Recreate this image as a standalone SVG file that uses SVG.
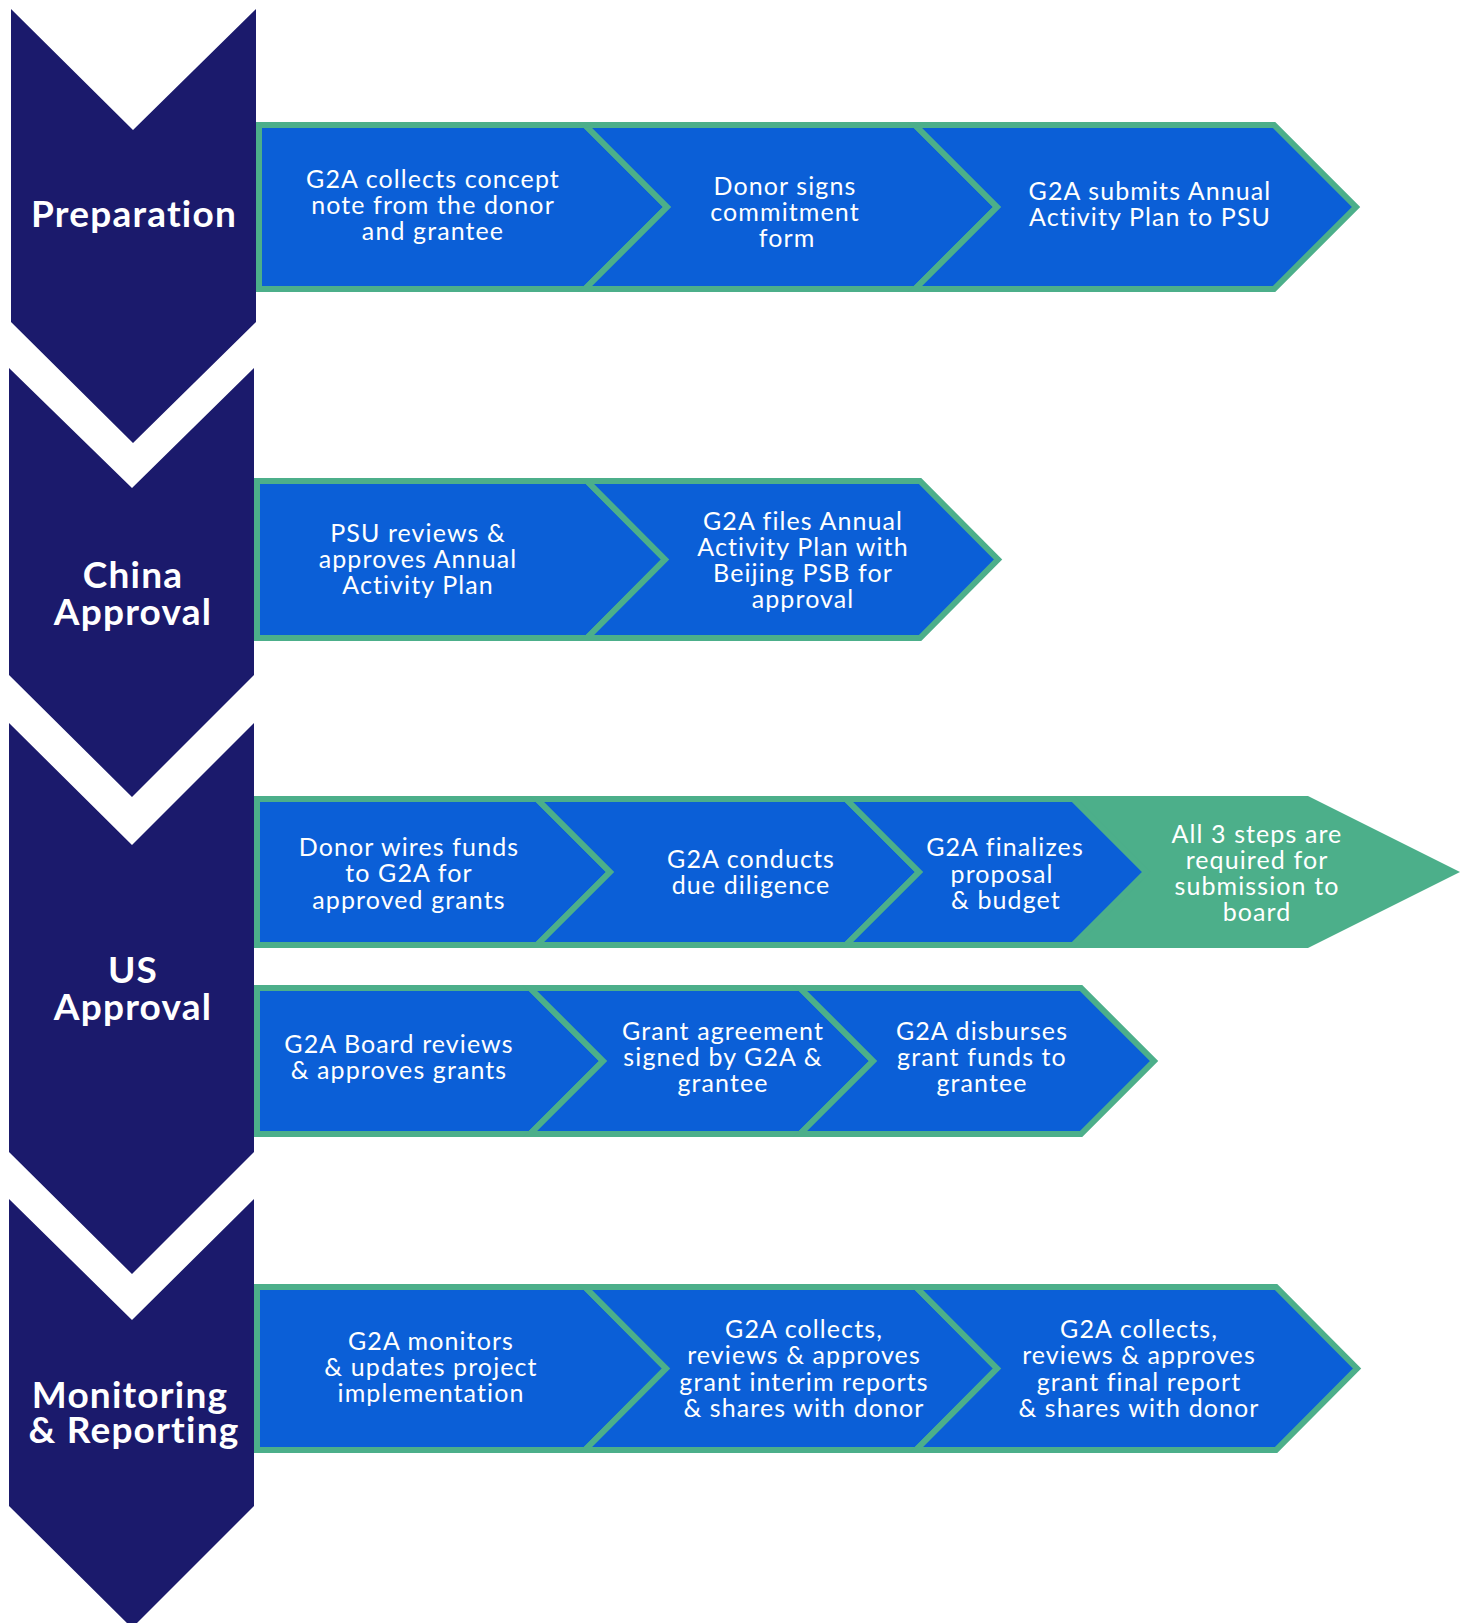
<svg xmlns="http://www.w3.org/2000/svg" width="1466" height="1623" viewBox="0 0 1466 1623">
<style>
.phase{fill:#1b1a6c}
.box{fill:#0b5fd7;stroke:#4caf8a;stroke-width:6;stroke-linejoin:miter}
.note{fill:#4caf8a}
.pt{font-family:Lato,"Liberation Sans",sans-serif;font-weight:700;font-size:37px;fill:#fff;text-anchor:middle;letter-spacing:1.2px}
.bt{font-family:Lato,"Liberation Sans",sans-serif;font-size:25px;fill:#fff;text-anchor:middle;letter-spacing:1.1px}
</style>
<rect width="1466" height="1623" fill="#fff"/>
<g id="phase-preparation">
<polygon class="phase" points="11,9 133,130 256,9 256,322 133,443 11,322"/>
<text class="pt" x="134" y="227">Preparation</text>
</g>
<g id="phase-china">
<polygon class="phase" points="9,368 132,488 254,368 254,675 132,797 9,675"/>
<text class="pt"><tspan x="133" y="588">China</tspan><tspan x="133" y="625">Approval</tspan></text>
</g>
<g id="phase-us">
<polygon class="phase" points="9,723 132,845 254,723 254,1152 132,1274 9,1152"/>
<text class="pt"><tspan x="133" y="983">US</tspan><tspan x="133" y="1020">Approval</tspan></text>
</g>
<g id="phase-monitoring">
<polygon class="phase" points="9,1199 132,1320 254,1199 254,1506 132,1628 9,1506"/>
<text class="pt"><tspan x="130" y="1408">Monitoring</tspan><tspan x="134" y="1443">&amp; Reporting</tspan></text>
</g>
<g id="connectors"></g>
<g id="p1">
<polygon class="box" points="259,125 585,125 667,207 585,289 259,289"/>
<text class="bt"><tspan x="433" y="188">G2A collects concept</tspan><tspan x="433" y="214">note from the donor</tspan><tspan x="433" y="240">and grantee</tspan></text>
</g>
<g id="p2">
<polygon class="box" points="585,125 915,125 997,207 915,289 585,289 667,207"/>
<text class="bt"><tspan x="785" y="195">Donor signs</tspan><tspan x="785" y="221">commitment</tspan><tspan x="787" y="247">form</tspan></text>
</g>
<g id="p3">
<polygon class="box" points="915,125 1274,125 1356,207 1274,289 915,289 997,207"/>
<text class="bt"><tspan x="1150" y="200">G2A submits Annual</tspan><tspan x="1150" y="226">Activity Plan to PSU</tspan></text>
</g>
<g id="c1">
<polygon class="box" points="257,481 587,481 665,559.5 587,638 257,638"/>
<text class="bt"><tspan x="418" y="542">PSU reviews &amp;</tspan><tspan x="418" y="568">approves Annual</tspan><tspan x="418" y="594">Activity Plan</tspan></text>
</g>
<g id="c2">
<polygon class="box" points="587,481 920,481 998,559.5 920,638 587,638 665,559.5"/>
<text class="bt"><tspan x="803" y="530">G2A files Annual</tspan><tspan x="803" y="556">Activity Plan with</tspan><tspan x="803" y="582">Beijing PSB for</tspan><tspan x="803" y="608">approval</tspan></text>
</g>
<g id="u-note">
<polygon class="note" points="1073,796 1308,796 1460,872 1308,948 1073,948 1146,872"/>
<text class="bt"><tspan x="1257" y="843">All 3 steps are</tspan><tspan x="1257" y="869">required for</tspan><tspan x="1257" y="895">submission to</tspan><tspan x="1257" y="921">board</tspan></text>
</g>
<g id="u1">
<polygon class="box" points="257,799 537,799 610,872 537,945 257,945"/>
<text class="bt"><tspan x="409" y="856">Donor wires funds</tspan><tspan x="409" y="882">to G2A for</tspan><tspan x="409" y="909">approved grants</tspan></text>
</g>
<g id="u2">
<polygon class="box" points="537,799 846,799 919,872 846,945 537,945 610,872"/>
<text class="bt"><tspan x="751" y="868">G2A conducts</tspan><tspan x="751" y="894">due diligence</tspan></text>
</g>
<g id="u3">
<polygon class="box" points="846,799 1073,799 1146,872 1073,945 846,945 919,872"/>
<text class="bt"><tspan x="1005" y="856">G2A finalizes</tspan><tspan x="1002" y="883">proposal</tspan><tspan x="1006" y="909">&amp; budget</tspan></text>
</g>
<g id="u4">
<polygon class="box" points="257,988 530,988 603,1061 530,1134 257,1134"/>
<text class="bt"><tspan x="399" y="1053">G2A Board reviews</tspan><tspan x="399" y="1079">&amp; approves grants</tspan></text>
</g>
<g id="u5">
<polygon class="box" points="530,988 800,988 873,1061 800,1134 530,1134 603,1061"/>
<text class="bt"><tspan x="723" y="1040">Grant agreement</tspan><tspan x="723" y="1066">signed by G2A &amp;</tspan><tspan x="723" y="1092">grantee</tspan></text>
</g>
<g id="u6">
<polygon class="box" points="800,988 1081,988 1154,1061 1081,1134 800,1134 873,1061"/>
<text class="bt"><tspan x="982" y="1040">G2A disburses</tspan><tspan x="982" y="1066">grant funds to</tspan><tspan x="982" y="1092">grantee</tspan></text>
</g>
<g id="m1">
<polygon class="box" points="257,1287 585,1287 666,1368.5 585,1450 257,1450"/>
<text class="bt"><tspan x="431" y="1350">G2A monitors</tspan><tspan x="431" y="1376">&amp; updates project</tspan><tspan x="431" y="1402">implementation</tspan></text>
</g>
<g id="m2">
<polygon class="box" points="585,1287 916,1287 997,1368.5 916,1450 585,1450 666,1368.5"/>
<text class="bt"><tspan x="804" y="1338">G2A collects,</tspan><tspan x="804" y="1364">reviews &amp; approves</tspan><tspan x="804" y="1391">grant interim reports</tspan><tspan x="804" y="1417">&amp; shares with donor</tspan></text>
</g>
<g id="m3">
<polygon class="box" points="916,1287 1276,1287 1357,1368.5 1276,1450 916,1450 997,1368.5"/>
<text class="bt"><tspan x="1139" y="1338">G2A collects,</tspan><tspan x="1139" y="1364">reviews &amp; approves</tspan><tspan x="1139" y="1391">grant final report</tspan><tspan x="1139" y="1417">&amp; shares with donor</tspan></text>
</g>
</svg>
